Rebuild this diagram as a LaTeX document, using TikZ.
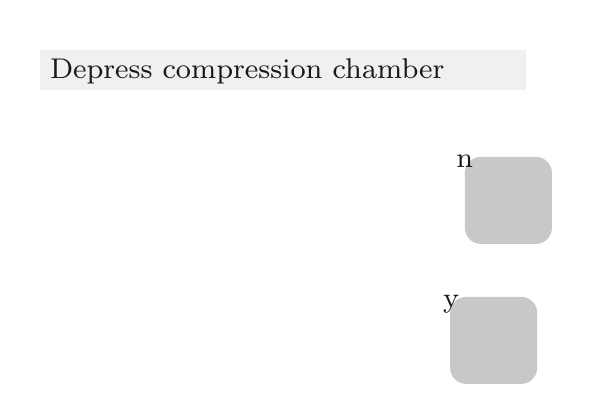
\documentclass[tikz,border=0pt]{standalone}
\definecolor{bandgray}{RGB}{240,240,240}
\definecolor{boxgray}{RGB}{200,200,200}
\begin{document}
\begin{tikzpicture}[x=1pt,y=1pt,
  txt/.style={font=\fontsize{8}{9.6}\selectfont, scale=3.56, inner sep=0pt, text=black!90},
  band/.style={fill=bandgray, inner sep=0pt, minimum width=485.5pt, minimum height=39.3pt, anchor=north west},
  roundbox/.style={fill=boxgray, rounded corners=16pt, inner sep=0pt, minimum size=87pt, anchor=north west}]
\useasboundingbox (0,0) rectangle (600,400);
\node[band] (title) at (40,350) {};
\node[txt, anchor=base west] (titletext) at ([xshift=9.3pt,yshift=-28.3pt]title.north west) {Depress compression chamber};
\node[roundbox] (boxn) at (464.7,243.3) {};
\node[roundbox] (boxy) at (450,103.3) {};
\node[txt, anchor=base] (labn) at ([yshift=-10.3pt]boxn.north west) {n};
\node[txt, anchor=base] (laby) at ([xshift=1pt,yshift=-10.8pt]boxy.north west) {y};
\end{tikzpicture}
\end{document}
